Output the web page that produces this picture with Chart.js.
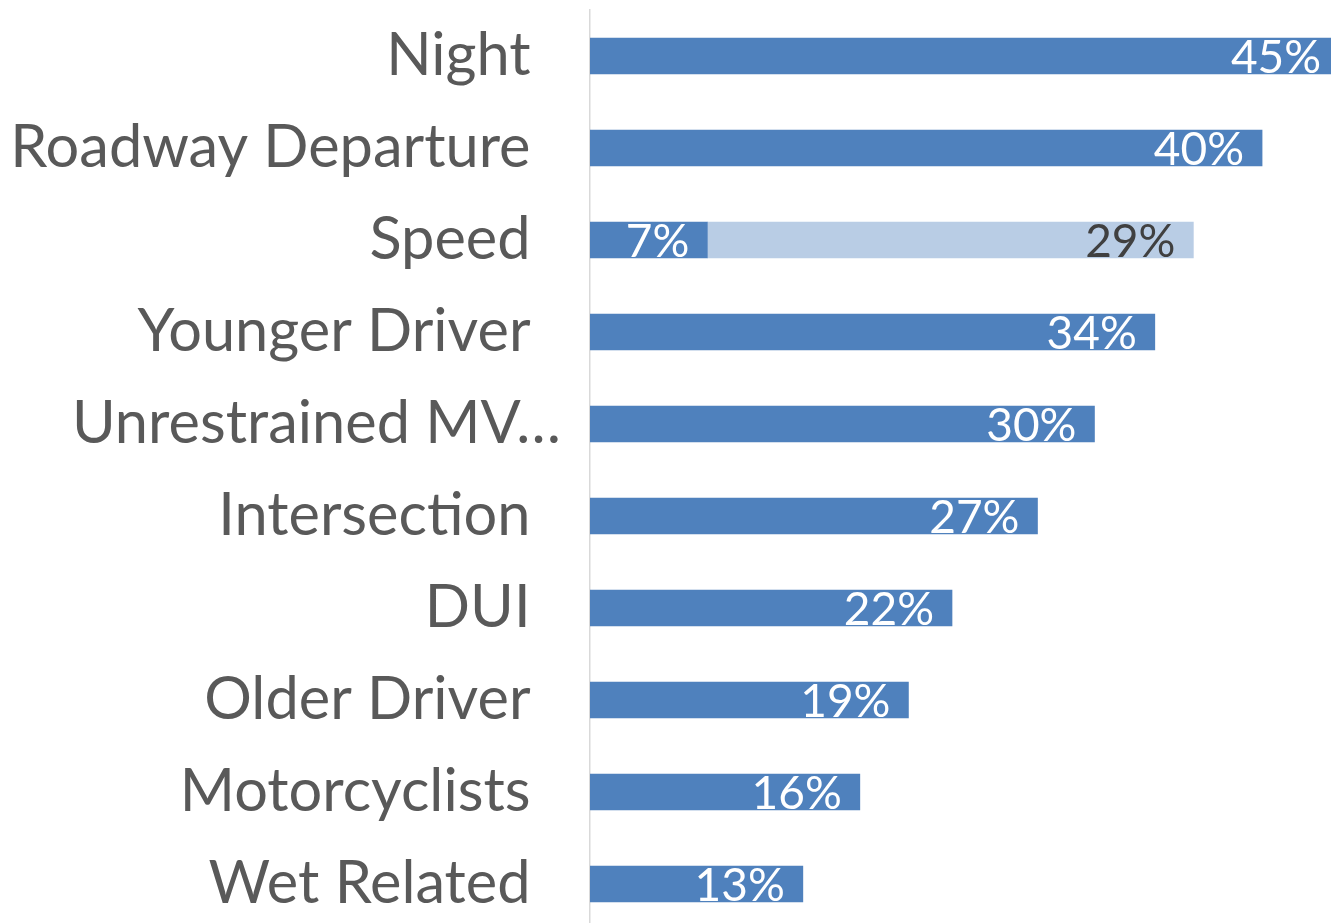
<!DOCTYPE html>
<html>
<head>
<meta charset="utf-8">
<script src="https://cdn.jsdelivr.net/npm/chart.js@4.4.1/dist/chart.umd.min.js"></script>
<style>
  html, body { margin: 0; padding: 0; background: #fff; overflow: hidden; }
  #wrap { width: 1331px; height: 923px; overflow: hidden; }
  canvas { display: block; }
</style>
</head>
<body>
<div id="wrap"><canvas id="chart" width="1428" height="932"></canvas></div>
<script>
// ---- data ----
const categories   = ['Night', 'Roadway Departure', 'Speed', 'Younger Driver', 'Unrestrained MV…',
                      'Intersection', 'DUI', 'Older Driver', 'Motorcyclists', 'Wet Related'];
const mainValues   = [44.7, 40.1, 7.0, 33.7, 30.1, 26.7, 21.6, 19.0, 16.1, 12.7];
const speedExtra   = [null, null, 29.0, null, null, null, null, null, null, null];
const xMin = 0;
const xMax = 50;

const DARK  = '#4f81bd';
const LIGHT = '#b9cde5';

// value labels drawn at the inside end of each bar
const barLabels = {
  id: 'barLabels',
  afterDatasetsDraw(chart) {
    const ctx = chart.ctx;
    ctx.save();
    ctx.font = '46px Lato';
    ctx.textAlign = 'right';
    ctx.textBaseline = 'alphabetic';
    chart.data.datasets.forEach((ds, di) => {
      const meta = chart.getDatasetMeta(di);
      meta.data.forEach((bar, i) => {
        const v = ds.data[i];
        if (v == null) return;
        ctx.fillStyle = ds.labelColor;
        ctx.fillText(Math.round(v) + '%', bar.x - 18, bar.y + 17);
      });
    });
    ctx.restore();
  }
};

new Chart(document.getElementById('chart'), {
  type: 'bar',
  data: {
    labels: categories,
    datasets: [
      { data: mainValues, backgroundColor: DARK,  labelColor: '#ffffff', barThickness: 36, borderWidth: 0 },
      { data: speedExtra, backgroundColor: LIGHT, labelColor: '#404040', barThickness: 36, borderWidth: 0 }
    ]
  },
  options: {
    indexAxis: 'y',
    responsive: false,
    animation: false,
    devicePixelRatio: 1,
    layout: { padding: { top: 10, bottom: 2, left: 0, right: 0 } },
    plugins: { legend: { display: false }, tooltip: { enabled: false } },
    scales: {
      x: {
        stacked: true,
        min: xMin,
        max: xMax,
        display: false
      },
      y: {
        stacked: true,
        grid: { display: false },
        border: { display: true, color: '#d9d9d9', width: 1.5 },
        ticks: {
          color: '#595959',
          font: { family: 'Lato', size: 59.5 },
          padding: 21,
          callback: function (value) {
            const l = this.getLabelForValue(value);
            return l.endsWith('…') ? l : l + '  ';
          }
        },
        afterFit(scale) {
          scale.width = 590;
          scale.paddingTop = 0;
          scale.paddingBottom = 0;
        }
      }
    }
  },
  plugins: [barLabels]
});
</script>
</body>
</html>
